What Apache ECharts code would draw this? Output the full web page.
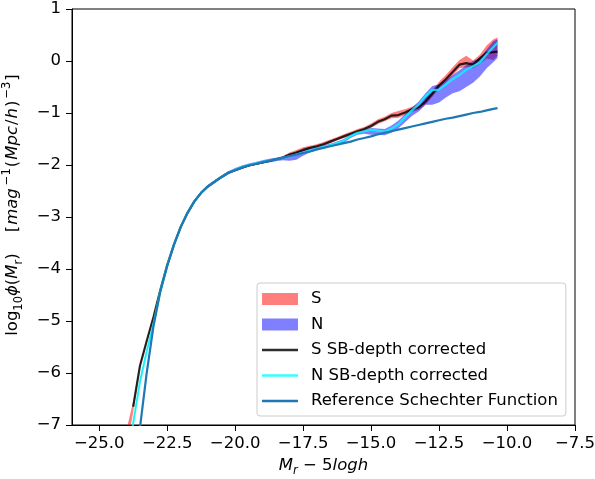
<!DOCTYPE html>
<html>
<head>
<meta charset="utf-8">
<script src="https://cdn.jsdelivr.net/npm/echarts@6/dist/echarts.min.js"></script>
<style>html,body{margin:0;padding:0;background:#fff;}#c{width:595px;height:479px;}</style>
</head>
<body>
<div id="c"></div>
<script>
// Absolute magnitude bins (M_r - 5 log h)
var mags = [-24.0,-23.75,-23.5,-23.25,-23.0,-22.75,-22.5,-22.25,-22.0,-21.75,-21.5,-21.25,-21.0,-20.75,-20.5,-20.25,-20.0,-19.75,-19.5,-19.25,-19.0,-18.75,-18.5,-18.25,-18.0,-17.75,-17.5,-17.25,-17.0,-16.75,-16.5,-16.25,-16.0,-15.75,-15.5,-15.25,-15.0,-14.75,-14.5,-14.25,-14.0,-13.75,-13.5,-13.25,-13.0,-12.75,-12.5,-12.25,-12.0,-11.75,-11.5,-11.25,-11.0,-10.75,-10.5,-10.35];
// S band (lower / upper)
var sLow = [-7.5,-6.75,-5.9,-5.42,-4.96,-4.43,-3.96,-3.55,-3.21,-2.94,-2.72,-2.555,-2.43,-2.34,-2.25,-2.17,-2.12,-2.07,-2.03,-2.00,-1.97,-1.94,-1.91,-1.88,-1.83,-1.79,-1.74,-1.70,-1.67,-1.63,-1.58,-1.53,-1.48,-1.43,-1.38,-1.34,-1.29,-1.21,-1.16,-1.10,-1.09,-1.04,-0.98,-0.94,-0.84,-0.69,-0.53,-0.42,-0.28,-0.14,-0.12,-0.14,-0.06,0.05,0.02,0.10];
var sHigh = [-7.1,-6.55,-5.81,-5.34,-4.88,-4.37,-3.90,-3.51,-3.17,-2.90,-2.68,-2.515,-2.39,-2.30,-2.21,-2.13,-2.08,-2.03,-1.99,-1.96,-1.93,-1.90,-1.87,-1.83,-1.76,-1.71,-1.66,-1.63,-1.60,-1.56,-1.51,-1.46,-1.41,-1.36,-1.31,-1.27,-1.20,-1.12,-1.07,-1.00,-0.96,-0.93,-0.88,-0.82,-0.70,-0.56,-0.40,-0.27,-0.12,0.02,0.10,0.01,0.12,0.30,0.42,0.45];
// N band (lower / upper)
var nLow = [-7.9,-7.02,-6.22,-5.62,-5.09,-4.45,-3.97,-3.56,-3.22,-2.95,-2.73,-2.56,-2.44,-2.35,-2.26,-2.18,-2.12,-2.07,-2.03,-2.00,-1.97,-1.95,-1.93,-1.91,-1.92,-1.90,-1.82,-1.76,-1.72,-1.68,-1.65,-1.61,-1.57,-1.48,-1.42,-1.40,-1.42,-1.42,-1.43,-1.38,-1.30,-1.18,-1.06,-0.97,-0.84,-0.84,-0.80,-0.70,-0.62,-0.58,-0.50,-0.42,-0.30,-0.14,-0.02,0.06];
var nHigh = [-7.7,-6.92,-6.12,-5.54,-5.01,-4.39,-3.91,-3.50,-3.16,-2.89,-2.67,-2.51,-2.38,-2.29,-2.20,-2.12,-2.06,-2.01,-1.97,-1.94,-1.91,-1.88,-1.86,-1.83,-1.80,-1.76,-1.72,-1.68,-1.66,-1.62,-1.59,-1.55,-1.50,-1.41,-1.35,-1.32,-1.29,-1.30,-1.31,-1.24,-1.15,-1.02,-0.90,-0.78,-0.62,-0.48,-0.45,-0.37,-0.27,-0.18,-0.08,0.00,0.05,0.22,0.38,0.42];
// S SB-depth corrected
var sCorr = [null,-6.65,-5.86,-5.38,-4.92,-4.40,-3.93,-3.53,-3.19,-2.92,-2.70,-2.535,-2.41,-2.32,-2.23,-2.15,-2.10,-2.05,-2.01,-1.98,-1.95,-1.92,-1.89,-1.86,-1.80,-1.76,-1.71,-1.67,-1.64,-1.60,-1.55,-1.50,-1.45,-1.40,-1.35,-1.31,-1.25,-1.17,-1.12,-1.05,-1.04,-0.99,-0.93,-0.89,-0.78,-0.63,-0.47,-0.35,-0.21,-0.07,-0.04,-0.07,0.05,0.16,0.17,0.18];
// N SB-depth corrected
var nCorr = [-7.8,-6.97,-6.17,-5.58,-5.05,-4.42,-3.94,-3.53,-3.19,-2.92,-2.70,-2.535,-2.41,-2.32,-2.23,-2.15,-2.09,-2.04,-2.00,-1.97,-1.94,-1.91,-1.89,-1.86,-1.84,-1.80,-1.76,-1.72,-1.69,-1.65,-1.62,-1.58,-1.53,-1.44,-1.38,-1.35,-1.32,-1.34,-1.36,-1.30,-1.22,-1.08,-0.95,-0.84,-0.68,-0.56,-0.55,-0.45,-0.35,-0.27,-0.17,-0.10,-0.03,0.13,0.27,0.35];
// Reference Schechter Function
var schechter = [null,-8.2,-7.05,-5.99,-5.09,-4.43,-3.94,-3.53,-3.19,-2.92,-2.70,-2.535,-2.41,-2.32,-2.23,-2.15,-2.10,-2.05,-2.01,-1.98,-1.95,-1.92,-1.89,-1.86,-1.83,-1.80,-1.77,-1.74,-1.70,-1.67,-1.64,-1.61,-1.58,-1.55,-1.51,-1.48,-1.45,-1.41,-1.38,-1.35,-1.32,-1.29,-1.26,-1.23,-1.20,-1.17,-1.14,-1.11,-1.09,-1.06,-1.03,-1.00,-0.98,-0.95,-0.92,-0.905];
// Tick values
var xTicks = [-25,-22.5,-20,-17.5,-15,-12.5,-10,-7.5];

function pairs(vals){
  var out=[];
  for(var i=0;i<mags.length;i++){ if(vals[i]!==null && vals[i]!==undefined) out.push([mags[i],vals[i]]); }
  return out;
}
function makeBand(name, lo, hi, color){
  var rows=[];
  for(var i=0;i<mags.length;i++){ rows.push([mags[i],lo[i],hi[i]]); }
  return {
    type:'custom', name:name, data:rows, clip:true, z:1,
    encode:{x:0, y:[1,2]},
    itemStyle:{color:color},
    renderItem:function(params, api){
      if(params.dataIndex!==0) return;
      var top=[], bot=[];
      for(var i=0;i<rows.length;i++){
        top.push(api.coord([rows[i][0], rows[i][2]]));
        bot.push(api.coord([rows[i][0], rows[i][1]]));
      }
      return {type:'polygon', shape:{points:top.concat(bot.reverse())}, style:{fill:color}};
    }
  };
}
function minusFmt(s){ return String(s).replace('-', '\u2212'); }

var FONT = 'DejaVu Sans';
var FS = 16.5;
var LINE_ICON = 'path://M0,0L36,0L36,2.4L0,2.4Z';
var chart = echarts.init(document.getElementById('c'), null, {renderer:'canvas'});
chart.setOption({
  animation:false,
  backgroundColor:'#fff',
  textStyle:{fontFamily:FONT},
  grid:{left:72, right:20, top:9, bottom:54, outerBoundsMode:'none', containLabel:false,
    show:true, borderColor:'#000', borderWidth:1, backgroundColor:'transparent'},
  xAxis:{
    type:'value', min:-26, max:-7.5,
    splitLine:{show:false},
    axisLine:{show:true, onZero:false, lineStyle:{color:'#000', width:1}},
    axisTick:{show:true, inside:false, length:6, lineStyle:{color:'#000'}, customValues:xTicks},
    axisLabel:{color:'#000', fontSize:FS, fontFamily:FONT, margin:10, customValues:xTicks,
      formatter:function(v){ return minusFmt(v.toFixed(1)); }},
    name:'{i|M}{sub|r}{n| \u2212 5}{i|logh}',
    nameLocation:'middle', nameGap:30,
    nameTextStyle:{color:'#000', fontFamily:FONT,
      rich:{
        i:{fontSize:FS, fontStyle:'italic', fontFamily:FONT, color:'#000', verticalAlign:'middle', lineHeight:22},
        n:{fontSize:FS, fontFamily:FONT, color:'#000', verticalAlign:'middle', lineHeight:22},
        sub:{fontSize:11.5, fontStyle:'italic', fontFamily:FONT, color:'#000', verticalAlign:'bottom', lineHeight:22}
      }}
  },
  yAxis:{
    type:'value', min:-7, max:1, interval:1,
    splitLine:{show:false},
    axisLine:{show:true, onZero:false, lineStyle:{color:'#000', width:1}},
    axisTick:{show:true, inside:false, length:6, lineStyle:{color:'#000'}},
    axisLabel:{color:'#000', fontSize:FS, fontFamily:FONT, margin:11,
      formatter:function(v){ return minusFmt(v); }},
    name:'{n|log}{s|10}{i|\u03d5}{n|(}{i|M}{s|r}{n|)    [}{j|mag}{p|\u22121}{n|(}{j|Mpc}{n|/}{j|h}{n|)}{p|\u22123}{n|]}',
    nameLocation:'middle', nameGap:47, nameRotate:90,
    nameTextStyle:{color:'#000', fontFamily:FONT, padding:[0,0,0,24],
      rich:{
        n:{fontSize:FS, fontFamily:FONT, color:'#000', verticalAlign:'middle', lineHeight:24},
        i:{fontSize:FS, fontStyle:'italic', fontFamily:FONT, color:'#000', verticalAlign:'middle', lineHeight:24},
        j:{fontSize:FS, fontStyle:'italic', fontFamily:FONT, color:'#000', verticalAlign:'middle', lineHeight:24, padding:[0,1,0,1]},
        s:{fontSize:11.5, fontFamily:FONT, color:'#000', verticalAlign:'bottom', lineHeight:24},
        p:{fontSize:11.5, fontFamily:FONT, color:'#000', verticalAlign:'top', lineHeight:24, padding:[0,1,0,2]}
      }}
  },
  legend:{
    orient:'vertical', left:257, top:283,
    padding:[7,8,6,5],
    itemGap:7.5, itemWidth:36, itemHeight:12,
    backgroundColor:'rgba(255,255,255,0.8)', borderColor:'#cccccc', borderWidth:1, borderRadius:3,
    textStyle:{fontSize:FS, fontFamily:FONT, color:'#000', lineHeight:18, padding:[0,0,0,8]},
    data:[
      {name:'S', icon:'rect'},
      {name:'N', icon:'rect'},
      {name:'S SB-depth corrected', icon:LINE_ICON},
      {name:'N SB-depth corrected', icon:LINE_ICON},
      {name:'Reference Schechter Function', icon:LINE_ICON}
    ]
  },
  series:[
    makeBand('S', sLow, sHigh, 'rgba(255,0,0,0.5)'),
    makeBand('N', nLow, nHigh, 'rgba(0,0,255,0.5)'),
    {type:'line', name:'S SB-depth corrected', data:pairs(sCorr), showSymbol:false, symbol:'none', clip:true, z:3,
      lineStyle:{color:'rgba(0,0,0,0.82)', width:2.2}, itemStyle:{color:'rgba(0,0,0,0.82)'}},
    {type:'line', name:'N SB-depth corrected', data:pairs(nCorr), showSymbol:false, symbol:'none', clip:true, z:4,
      lineStyle:{color:'rgba(0,255,255,0.8)', width:2.2}, itemStyle:{color:'rgba(0,255,255,0.8)'}},
    {type:'line', name:'Reference Schechter Function', data:pairs(schechter), showSymbol:false, symbol:'none', clip:true, z:5,
      lineStyle:{color:'#1f77b4', width:2.2}, itemStyle:{color:'#1f77b4'}}
  ]
});
</script>
</body>
</html>
